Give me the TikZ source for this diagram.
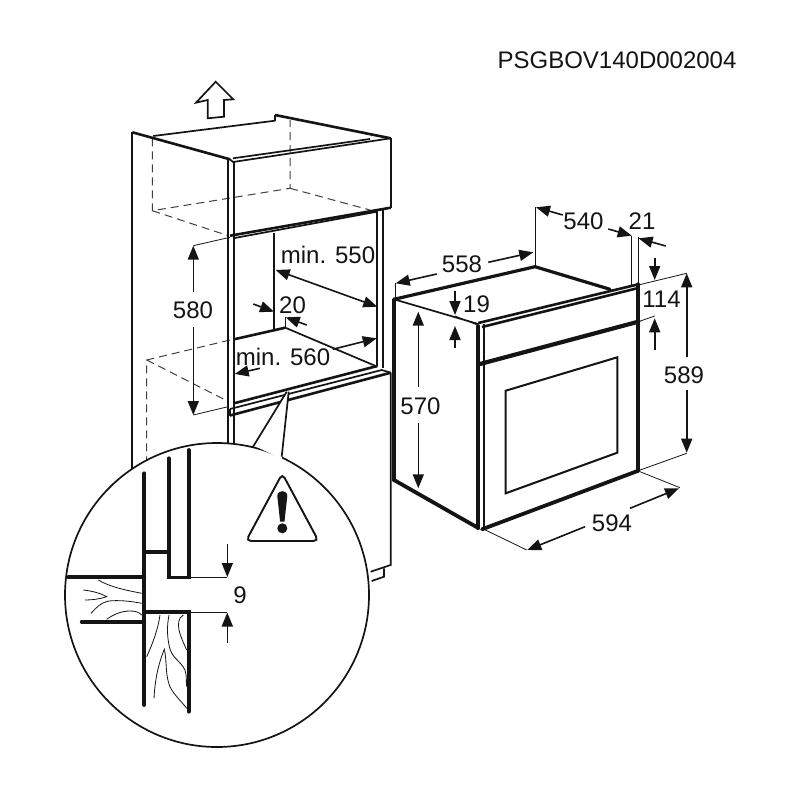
\documentclass[tikz,border=0pt]{standalone}
\usepackage{fontspec}
\setmainfont{Liberation Sans}
\usetikzlibrary{arrows.meta}
\definecolor{ink}{gray}{0.08}
\tikzset{
  thin line/.style={line width=0.8pt,ink},
  med line/.style={line width=1.7pt,ink},
  body line/.style={line width=2.6pt,ink},
  heavy line/.style={line width=3.8pt,ink,line cap=round},
  hidden line/.style={line width=1pt,black!75,dash pattern=on 8pt off 5pt},
  wood line/.style={line width=0.8pt,ink},
  dim arrow/.style={line width=1.6pt,ink,-{Triangle[length=14pt,width=11pt]}},
  dim both/.style={line width=1.6pt,ink,{Triangle[length=14pt,width=11pt]}-{Triangle[length=14pt,width=11pt]}},
  dim ext/.style={line width=0.8pt,ink},
  label/.style={font=\fontsize{24}{24}\selectfont,text=ink,inner sep=0pt}
}
\begin{document}
\begin{tikzpicture}[x=1pt,y=-1pt]
\useasboundingbox (0,0) rectangle (800,800);
\fill[white] (0,0) rectangle (800,800);

% ---------- up arrow
\draw[med line,line join=miter] (215.7,81.7) -- (233.3,99.3) -- (224,100) -- (224,116.7) -- (207.7,118.3) -- (207.7,100) -- (196,102.7) -- cycle;

% ---------- cabinet, hidden edges
\draw[hidden line] (152.3,138.3) -- (152.3,210.7) -- (290,188.3) -- (290,120);
\draw[hidden line] (152.3,210.7) -- (228.3,235.7);
\draw[hidden line] (290,188.3) -- (370,210);
\draw[hidden line] (230,340) -- (146.7,360) -- (146.7,460);
\draw[hidden line] (146.7,360) -- (226.7,400.7);

% ---------- cabinet, visible edges
\draw[med line] (132.3,470) -- (132.3,132.3);
\draw[body line] (132.3,132.3) -- (230,159.3);
\draw[med line] (153.3,136) -- (275,120.7);
\draw[med line] (275,120.7) -- (275,115);
\draw[body line] (275,115) -- (390.7,138.3);
\draw[med line] (233,158.3) -- (370,139);
\draw[med line] (230,159.3) -- (233,162) -- (390.7,138.3);
\draw[med line] (390.7,138.3) -- (390.7,207.7);
\draw[med line] (227.7,159) -- (227.7,443);
\draw[med line] (234,161) -- (234,443);
\draw[body line] (230,235.7) -- (390.7,207.7);
\draw[med line] (233,238.3) -- (377,211.7);
\draw[med line] (376.7,211) -- (376.7,366);
\draw[med line] (383,210) -- (383,368);
% niche
\draw[med line] (274,233) -- (274,330);
\draw[body line] (234,339.3) -- (285.3,327.7);
\draw[med line] (285.3,327.7) -- (377.3,366.7);
\draw[body line] (234,403.3) -- (377.3,366);
% shelf strip
\draw[med line] (230,409) -- (381.7,370) -- (390.7,372.7);
\draw[body line] (230,415.5) -- (390.7,372.7);
\draw[med line] (230,409) -- (230,415.5);
% lower right side
\draw[med line] (390.7,372.7) -- (390.7,565) -- (370.7,571.7);
\draw[med line] (384,568.3) -- (384,576.7) -- (371.7,581);

% ---------- dimensions of the cabinet
\draw[dim ext] (193.3,245.7) -- (230,237.3);
\draw[dim ext] (193.3,415) -- (228,406.7);
\draw[dim arrow] (193.3,292) -- (193.3,245.7);
\draw[dim arrow] (193.3,327) -- (193.3,415);
\draw[dim both] (275.7,270) -- (377.3,306.7);
\draw[dim arrow] (253.3,304) -- (274,311.7);
\draw[dim arrow] (306.7,325) -- (285.7,317.3);
\draw[dim ext] (285.7,317.3) -- (285.7,327.7);
\draw[dim arrow] (260,368.3) -- (234.7,374);
\draw[dim arrow] (332.7,349.3) -- (376.7,338.3);

% ---------- callout bubble
\coordinate (lensc) at (217,595);
\fill[white] (lensc) circle[radius=152];
\draw[med line] (lensc) circle[radius=152];
\fill[white] (252.7,445) -- (286.7,391.7) -- (288.7,391.7) -- (281.7,459) -- cycle;
\draw[med line] (252.7,447.3) -- (286.7,391.7);
\draw[med line] (281.7,456.7) -- (288.7,391.7);

% ---------- section in the bubble
\draw[heavy line] (144.3,473.3) -- (144.3,705);
\draw[heavy line] (168.7,458.3) -- (168.7,577.5) -- (188.7,577.5) -- (188.7,450);
\draw[heavy line] (144.3,552.3) -- (168.7,552.3);
\draw[heavy line] (68.3,577.3) -- (144.3,577.3);
\draw[heavy line] (81.7,621.7) -- (144.3,621.7);
\draw[heavy line] (144.3,612) -- (188.7,612) -- (188.7,711.7);
\draw[dim ext] (188,577.3) -- (227.3,577.3);
\draw[dim ext] (188,612) -- (227.3,612);
\draw[dim arrow] (227.3,544) -- (227.3,577);
\draw[dim arrow] (227.3,643.3) -- (227.3,612.5);
% wood grain
\draw[wood line] (98.3,580) .. controls (110,587) and (125,590) .. (141.7,593.3);
\draw[wood line] (83.3,590) .. controls (92,591) and (100,593) .. (106.7,596.7) .. controls (100,599) and (92,600) .. (85,600);
\draw[wood line] (91,613.3) .. controls (97,607) and (100,603) .. (109,601) .. controls (118,600) and (130,601) .. (141.7,603.3);
\draw[wood line] (106.7,619.3) .. controls (114,614) and (122,611) .. (130,611) .. controls (135,611) and (139,612) .. (141.7,615);
\draw[wood line] (160,615) .. controls (158,630) and (152,645) .. (146.7,656.7);
\draw[wood line] (154,698.3) .. controls (155,680) and (158,665) .. (164.3,649.3) .. controls (167,660) and (165,675) .. (170,686.7) .. controls (174,695) and (182,702) .. (186.7,708.3);
\draw[wood line] (169,615) .. controls (167,625) and (167,635) .. (169,645) .. controls (171,658) and (180,660) .. (185,670) .. controls (187,676) and (186,682) .. (186.7,686.7);
\draw[wood line] (183.3,615) .. controls (178,618) and (178,624) .. (179,630) .. controls (181,638) and (184,644) .. (186.7,650);

% ---------- warning sign
\draw[line width=1.9pt,ink,rounded corners=5pt] (282.3,473.5) -- (318.5,541) -- (246,541) -- cycle;
\fill[ink] (277.3,496) .. controls (277.3,489.5) and (287.3,489.5) .. (287.3,496) -- (284.5,521.5) -- (280.1,521.5) -- cycle;
\fill[ink] (282.3,528.3) circle[radius=5];

% ---------- oven
\draw[heavy line,line width=3.2pt] (394,299.3) -- (535,266.7) -- (610,289.3);
\draw[med line] (394,299.3) -- (478.3,324);
\draw[heavy line] (394,299.3) -- (394,480) -- (478.3,528);
\draw[heavy line] (478.3,326) -- (478.3,528);
\draw[med line] (484,324) -- (484,528);
\draw[body line] (478.3,323) -- (638.3,284.3);
\draw[body line] (482,327) -- (638.3,288);
\draw[heavy line,line width=4.2pt] (480,364) -- (638.3,321.7);
\draw[heavy line] (638.3,284.3) -- (638.3,470.7);
\draw[heavy line] (482,529.3) -- (638.3,470.7);
\draw[line width=2pt,ink] (505.7,390.7) -- (617.3,357.3) -- (617.3,452.7) -- (505.7,493.3) -- cycle;

% ---------- dimensions of the oven
\draw[dim ext] (395,283.3) -- (395,299.3);
\draw[dim arrow] (436.7,274) -- (395.7,283.3);
\draw[dim arrow] (488.3,262.3) -- (533.3,252.3);
\draw[dim ext] (535,207.3) -- (535,266.7);
\draw[dim arrow] (562.7,215) -- (536,207.3);
\draw[dim arrow] (608.3,229) -- (631.7,235.7);
\draw[dim ext] (631.7,235.7) -- (631.7,285);
\draw[dim ext] (638.3,237.3) -- (638.3,284);
\draw[dim arrow] (665.7,246) -- (638.6,238.3);
\draw[dim arrow] (654.7,258.3) -- (654.7,280);
\draw[dim ext] (638.3,285) -- (686.7,273.3);
\draw[dim arrow] (654.7,350) -- (654.7,318.3);
\draw[dim ext] (638.3,321.7) -- (654.7,316);
\draw[dim arrow] (686.7,357) -- (686.7,273.3);
\draw[dim arrow] (686.7,390) -- (686.7,452.7);
\draw[dim ext] (638.3,470.7) -- (686.7,453.3);
\draw[dim ext] (640,471.7) -- (680,487.7);
\draw[dim ext] (484,529.3) -- (526.7,550);
\draw[dim arrow] (630,508.3) -- (679,488.3);
\draw[dim arrow] (585,526.7) -- (527.3,550);
\draw[dim arrow] (418.3,386.7) -- (418.3,311.7);
\draw[dim arrow] (418.3,423.3) -- (418.3,488.3);
\draw[dim arrow] (455,290.7) -- (455,315);
\draw[dim ext] (455,316) -- (477.3,325);
\draw[dim arrow] (455,347.7) -- (455,326);

% ---------- labels
\node[label] (code) at (617,60) {PSGBOV140D002004};
\node[label] (w550) at (328,255) {min. 550};
\node[label] (h580) at (193,310) {580};
\node[label] (d20) at (292.5,305) {20};
\node[label] (w560) at (283,357) {min. 560};
\node[label] (gap9) at (240,595) {9};
\node[label] (w558) at (462,264) {558};
\node[label] (d540) at (583.5,221) {540};
\node[label] (d21) at (642,221) {21};
\node[label] (h114) at (661.5,299.5) {114};
\node[label] (h589) at (684,375) {589};
\node[label] (h570) at (420.5,406) {570};
\node[label] (d19) at (476.5,304) {19};
\node[label] (w594) at (612,523.5) {594};
\end{tikzpicture}
\end{document}
